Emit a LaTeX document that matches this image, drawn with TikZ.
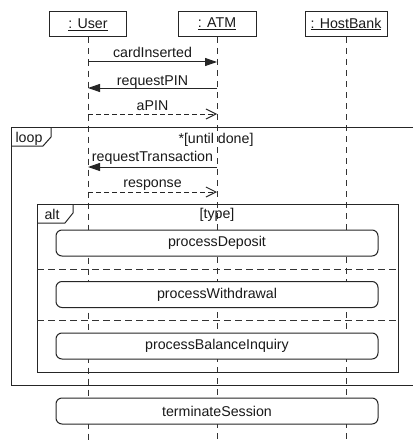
\documentclass[tikz,border=0pt]{standalone}
\usepackage{fontspec}
\setmainfont{Liberation Sans}
\usetikzlibrary{arrows.meta}
\begin{document}
\begin{tikzpicture}[x=1pt,y=-1pt,
  ink/.style={draw=black!85, line width=1pt},
  txt/.style={font=\fontsize{14.2}{16}\selectfont, text=black!90},
  head/.style={ink, txt, fill=white, minimum width=#1, minimum height=25pt, inner sep=0pt},
  lifeline/.style={draw=black!80, line width=1pt, dash pattern=on 6pt off 5pt},
  call/.style={ink, -{Triangle[length=12pt,width=8pt]}},
  reply/.style={ink, dash pattern=on 5pt off 3pt, -{Straight Barb[length=10pt,width=10pt]}},
  act/.style={ink, txt, fill=white, rounded corners=6pt, minimum width=322pt, minimum height=26pt, inner sep=0pt},
  msg/.style={txt, inner sep=0pt, anchor=base},
  sep/.style={draw=black!80, line width=1pt, dash pattern=on 7pt off 4pt}
]
\useasboundingbox (0,0) rectangle (413,444);
\fill[white] (0,0) rectangle (413,444);

% lifeline heads
\node[head=77pt] (u) at (88,24.5) {\underline{: User}};
\node[head=78pt] (a) at (217,24) {\underline{: ATM}};
\node[head=82pt] (h) at (346,24) {\underline{: HostBank}};

% lifeline ends
\coordinate (uend) at (88,444);
\coordinate (aend) at (217,444);
\coordinate (hend) at (346,444);
\draw[lifeline] (u.south) -- (uend);
\draw[lifeline] (a.south) -- (aend);
\draw[lifeline] (h.south) -- (hend);

% opening messages
\draw[call] (u |- 0,62) -- (a |- 0,62);
\node[msg] (m1) at (152.5,58) {cardInserted};
\draw[call] (a |- 0,88) -- (u |- 0,88);
\node[msg] (m2) at (152.5,85) {requestPIN};
\draw[reply] (u |- 0,114) -- (a |- 0,114);
\node[msg] (m3) at (152.5,110) {aPIN};

% loop fragment
\draw[ink] (413,127) -- (11,127) -- (11,385) -- (413,385);
\draw[ink] (11,146) -- (43,146) -- (51,137) -- (51,127);
\node[msg] (lp) at (29,142) {loop};
\node[msg] (g1) at (216,143) {*[until done]};
\draw[call] (a |- 0,167) -- (u |- 0,167);
\node[msg] (m4) at (152.5,161) {requestTransaction};
\draw[reply] (u |- 0,192) -- (a |- 0,192);
\node[msg] (m5) at (152.5,187) {response};

% alt fragment
\draw[ink] (37,204) rectangle (398,372);
\draw[ink] (37,223) -- (65,223) -- (73,213) -- (73,204);
\node[msg] (al) at (52,219) {alt};
\node[msg] (g2) at (217,218) {[type]};
\draw[sep] (37,269) -- (398,269);
\draw[sep] (37,320) -- (398,320);

% interaction uses
\node[act] (p1) at (217,243) {processDeposit};
\node[act] (p2) at (217,294.5) {processWithdrawal};
\node[act] (p3) at (217,346) {processBalanceInquiry};
\node[act] (p4) at (217,411) {terminateSession};
\end{tikzpicture}
\end{document}
